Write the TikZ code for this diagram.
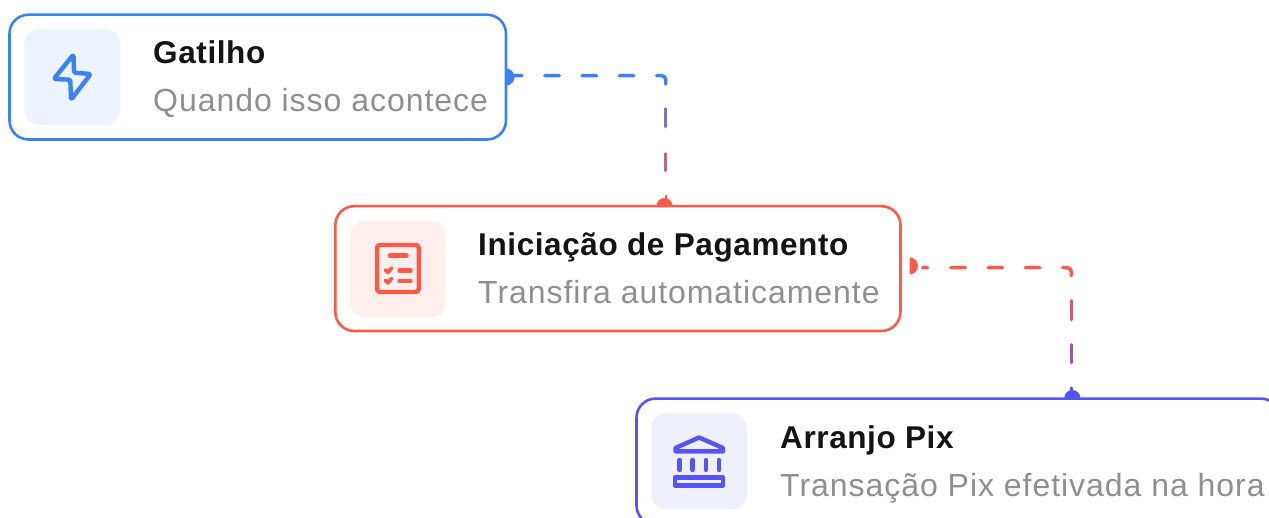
\documentclass[tikz,border=0pt]{standalone}
\usepackage{fontspec}
\setmainfont{Liberation Sans}
\newfontfamily\titlefont[LetterSpace=1.9]{Liberation Sans}
\newfontfamily\subfont[LetterSpace=3]{Liberation Sans}
\definecolor{cblue}{HTML}{3B82F6}
\definecolor{cred}{HTML}{FF5A47}
\definecolor{cind}{HTML}{5555F5}
\definecolor{bblue}{HTML}{EDF4FF}
\definecolor{bred}{HTML}{FFF0EE}
\definecolor{bind}{HTML}{F0F0FD}
\definecolor{ctitle}{HTML}{141414}
\definecolor{csub}{HTML}{8F8F8F}
\usetikzlibrary{calc}
\tikzset{
  x=1pt,y=-1pt,
  card/.style={draw=#1,line width=2.6pt,rounded corners=19pt,fill=white},
  chip/.style={fill=#1,rounded corners=15pt},
  glyph/.style={draw=#1,line width=4.4pt,line join=round,line cap=round},
  titletext/.style={anchor=base west,inner sep=0pt,text=ctitle,font=\titlefont\bfseries\fontsize{31.5}{32}\selectfont},
  subtext/.style={anchor=base west,inner sep=0pt,text=csub,font=\subfont\fontsize{32}{32}\selectfont},
  link/.style={draw=#1,line width=3.4pt,line cap=round,rounded corners=4pt},
  stub/.style={draw=#1,line width=3.4pt,line cap=round},
}
\begin{document}
\begin{tikzpicture}
\useasboundingbox (0,0) rectangle (1269,518);
\clip (0,0) rectangle (1269,518);
\coordinate (d1) at (506,77);
\coordinate (b1) at (507.5,75.7);
\coordinate (c1) at (665.7,75.7);
\coordinate (e1) at (664.5,206);
\coordinate (d2) at (909.5,266);
\coordinate (b2) at (922.5,267.7);
\coordinate (c2) at (1071.3,267.7);
\coordinate (e2) at (1072.3,398);
% connectors
\draw[link=cblue,dash pattern=on 14.5pt off 22.8pt on 14.5pt off 22.8pt on 14.5pt off 22.8pt on 14.5pt off 22.8pt on 40pt off 200pt] (b1) -- (c1) -- ($(c1)+(0,8.5)$);
\draw[stub={cblue!69!cred}] ($(c1)+(0,33)$) -- ($(c1)+(0,51)$);
\draw[stub={cblue!33!cred}] ($(c1)+(0,78)$) -- ($(c1)+(0,95)$);
\draw[stub=cred,line width=2.4pt] ($(c1)+(0,120)$) -- ($(c1)+(0,130)$);
\draw[link=cred,dash pattern=on 5pt off 23.25pt on 14.5pt off 22.8pt on 14.5pt off 22.8pt on 14.5pt off 22.8pt on 40pt off 200pt] (b2) -- (c2) -- ($(c2)+(0,8)$);
\draw[stub={cred!75!cind}] ($(c2)+(0,33)$) -- ($(c2)+(0,52)$);
\draw[stub={cred!40!cind}] ($(c2)+(0,77)$) -- ($(c2)+(0,95)$);
\draw[stub=cind,line width=2.4pt] ($(c2)+(0,120)$) -- ($(c2)+(0,130)$);
% end dots
\fill[cblue] (d1) ++(0,-8.5) arc[start angle=-90,end angle=90,radius=8.5];
\fill[cred] (d2) ++(0,-8.5) arc[start angle=-90,end angle=90,radius=8.5];
\fill[cred] (e1) ++(-8,0) arc[start angle=180,end angle=360,radius=8];
\fill[cind] (e2) ++(-8,0) arc[start angle=180,end angle=360,radius=8];
% cards
\path[card=cblue] (9.5,14.7) rectangle (506,139.5);
\path[card=cred] (335.3,206.2) rectangle (900.5,331);
\path[card=cind] (636.5,398.6) rectangle (1280,524.5);
% chips
\path[chip=bblue] (24.3,29) rectangle (120,125);
\path[chip=bred] (350,221) rectangle (446,317);
\path[chip=bind] (651.3,413.3) rectangle (747,509);
% bolt
\draw[glyph=cblue,rounded corners=1.5pt] (73.5,54.5) -- (53.8,79) -- (70.3,79.7) -- (71,99.8) -- (90.7,74) -- (74,72.7) -- cycle;
% list
\draw[glyph=cred,rounded corners=3pt] (377,245) rectangle (418.7,292);
\draw[glyph=cred] (390,255.7) -- (406.5,255.7);
\draw[glyph=cred] (399.5,270.5) -- (410.5,270.5);
\draw[glyph=cred] (399.5,281) -- (410.5,281);
\draw[glyph=cred,line width=3.6pt] (385.5,270) -- (388,272.5) -- (391.5,268);
\draw[glyph=cred,line width=3.6pt] (385.5,280.5) -- (388,283) -- (391.5,278.5);
% bank
\draw[glyph=cind] (699,437.5) -- (675.5,448) -- (675.5,451.3) -- (723,451.3) -- (723,448) -- cycle;
\foreach \cx in {679.5,692.5,706,719}
  \draw[glyph=cind] (\cx,460) -- (\cx,470);
\draw[glyph=cind] (675,477.5) rectangle (723,485.3);
% texts
\node[titletext] (t1) at (153,64) {Gatilho};
\node[subtext] (s1) at (153,112) {Quando isso acontece};
\node[titletext] (t2) at (478,256) {Iniciação de Pagamento};
\node[subtext] (s2) at (478,304) {Transfira automaticamente};
\node[titletext] (t3) at (780,448) {Arranjo Pix};
\node[subtext] (s3) at (780,496) {Transação Pix efetivada na hora};
\end{tikzpicture}
\end{document}
